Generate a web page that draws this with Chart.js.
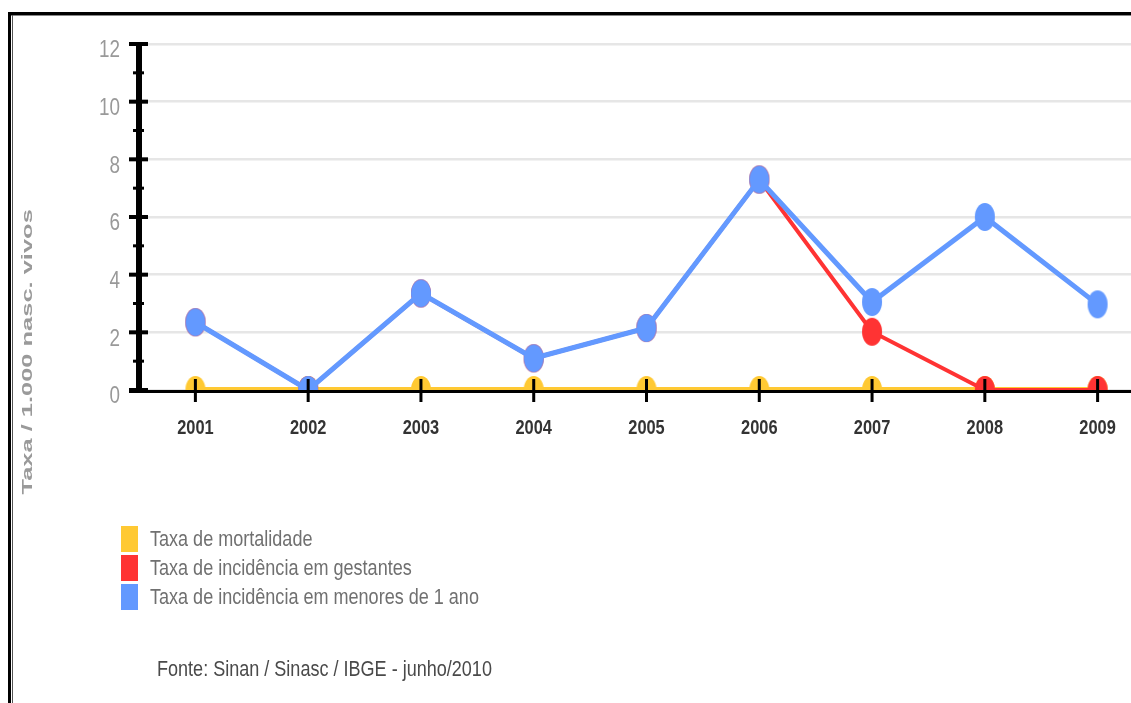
<!doctype html>
<html><head><meta charset="utf-8"><title>Taxas</title>
<script src="https://cdn.jsdelivr.net/npm/chart.js"></script>
<style>
  html, body { margin: 0; padding: 0; background: #fff; }
  body { width: 1131px; height: 703px; overflow: hidden; position: relative; }
  #wrap { position: absolute; left: 0; top: 0; width: 1200px; height: 703px; }
  .bd { position: absolute; }
  .sq { display: inline-block; transform: scaleX(0.82); transform-origin: 0 50%; white-space: nowrap; }
  #ytitle { position: absolute; left: 0; top: 0; white-space: nowrap; transform-origin: 0 0;
    font: bold 15px "Liberation Sans", Arial, sans-serif; color: #9a9a9a; }
  #legend { position: absolute; left: 121px; top: 526px; font: 22px "Liberation Sans", Arial, sans-serif; color: #707070; }
  #legend div { height: 29px; line-height: 26px; position: relative; padding-left: 29px; }
  #legend span.b { position: absolute; left: 0; top: 0; width: 17px; height: 26px; }
  #fonte { position: absolute; left: 157px; top: 656px; font: 22px "Liberation Sans", Arial, sans-serif; color: #4a4a4a; }
</style>
</head><body>
<div id="wrap"><canvas id="c" width="1200" height="703"></canvas></div>
<div class="bd" style="left:8px;top:12px;width:1123px;height:3px;background:#000"></div>
<div class="bd" style="left:11px;top:15px;width:1120px;height:1px;background:#888"></div>
<div class="bd" style="left:8px;top:12px;width:3px;height:691px;background:#000"></div>
<div class="bd" style="left:12px;top:15px;width:1px;height:688px;background:#555"></div>
<div id="ytitle">Taxa / 1.000 nasc. vivos</div>
<div id="legend"></div>
<div id="fonte"><span class="sq">Fonte: Sinan / Sinasc / IBGE - junho/2010</span></div>
<script>
const years = ['2001', '2002', '2003', '2004', '2005', '2006', '2007', '2008', '2009'];
const mortalidade = [0, 0, 0, 0, 0, 0, 0, 0, 0];
const gestantes = [2.35, 0, 3.35, 1.1, 2.15, 7.3, 2.02, 0, 0];
const menores = [2.35, 0, 3.35, 1.1, 2.15, 7.3, 3.05, 6.0, 2.97];
const seriesNames = ['Taxa de mortalidade', 'Taxa de incidência em gestantes', 'Taxa de incidência em menores de 1 ano'];
const seriesColors = ['#ffc933', '#ff3333', '#6399ff'];
const yTicks = [0, 2, 4, 6, 8, 10, 12];

const SQUEEZE = 0.82; // the original uses a narrow face

// ellipse markers like the original picture
function dot(color) {
  const c = document.createElement('canvas');
  c.width = 22; c.height = 30;
  const g = c.getContext('2d');
  g.fillStyle = color;
  g.beginPath();
  g.ellipse(11, 15, 10, 14, 0, 0, Math.PI * 2);
  g.fill();
  return c;
}

// legend
const leg = document.getElementById('legend');
seriesNames.forEach((n, i) => {
  const d = document.createElement('div');
  d.innerHTML = '<span class="b" style="background:' + seriesColors[i] + '"></span><span class="sq">' + n + '</span>';
  leg.appendChild(d);
});

// rotated axis title, stretched to its original length
(function () {
  const t = document.getElementById('ytitle');
  const w = t.offsetWidth, h = t.offsetHeight;
  const k = 285 / w;
  t.style.transform = `translate(${26 - h / 2}px, ${352 + w * k / 2}px) rotate(-90deg) scaleX(${k})`;
})();

function squeezedText(ctx, txt, x, y, align) {
  ctx.save();
  ctx.translate(x, y);
  ctx.scale(SQUEEZE, 1);
  ctx.textAlign = align;
  ctx.textBaseline = 'middle';
  ctx.fillText(txt, 0, 0);
  ctx.restore();
}

const axisMarks = {
  id: 'axisMarks',
  afterDatasetsDraw(chart) {
    const { ctx, scales: { x, y } } = chart;
    const left = x.left, bottom = y.bottom;
    ctx.save();
    ctx.fillStyle = '#000';
    // y axis + ticks
    ctx.fillRect(left - 3, y.top, 6, bottom - y.top + 2);
    for (let v = 0; v <= 12; v++) {
      const py = y.getPixelForValue(v);
      if (v % 2 === 0) ctx.fillRect(left - 10, py - 2, 19, 4);
      else ctx.fillRect(left - 6, py - 1.5, 11, 3);
    }
    // x axis + ticks
    ctx.fillRect(left - 10, bottom, chart.width - left + 10, 3);
    x.getLabels().forEach((_, i) => {
      const px = x.getPixelForValue(i);
      ctx.fillRect(px - 1.5, bottom - 11, 3, 23);
    });
    // tick labels
    ctx.fillStyle = '#999';
    ctx.font = '23px "Liberation Sans", Arial, sans-serif';
    y.ticks.forEach(t => squeezedText(ctx, String(t.value), left - 19, y.getPixelForValue(t.value) + 7, 'right'));
    ctx.fillStyle = '#333';
    ctx.font = 'bold 20px "Liberation Sans", Arial, sans-serif';
    x.getLabels().forEach((lab, i) => squeezedText(ctx, lab, x.getPixelForValue(i), bottom + 38, 'center'));
    ctx.restore();
  }
};

function ds(label, data, color, order, width) {
  return {
    label, data, order,
    borderColor: color, backgroundColor: color,
    borderWidth: width,
    pointStyle: dot(color),
    pointRadius: 10, pointHoverRadius: 10,
    tension: 0,
    clip: { left: 30, top: 30, right: 30, bottom: 0 }
  };
}

new Chart(document.getElementById('c'), {
  type: 'line',
  data: {
    labels: years,
    datasets: [
      ds(seriesNames[0], mortalidade, seriesColors[0], 2, 6),
      ds(seriesNames[1], gestantes, seriesColors[1], 1, 4),
      ds(seriesNames[2], menores, seriesColors[2], 0, 5)
    ]
  },
  options: {
    responsive: false,
    animation: false,
    events: [],
    layout: { padding: { left: 0, top: 44, right: 46, bottom: 253 } },
    plugins: { legend: { display: false }, tooltip: { enabled: false } },
    scales: {
      x: {
        offset: true,
        grid: { display: false, drawTicks: false },
        border: { display: false },
        ticks: { display: false },
        afterFit(s) { s.height = 60; }
      },
      y: {
        min: 0, max: 12,
        afterBuildTicks(s) { s.ticks = yTicks.map(v => ({ value: v })); },
        grid: { color: '#e6e6e6', lineWidth: 2.5, drawTicks: false },
        border: { display: false },
        ticks: { display: false },
        afterFit(s) { s.width = 139; }
      }
    }
  },
  plugins: [axisMarks]
});
</script>
</body></html>
